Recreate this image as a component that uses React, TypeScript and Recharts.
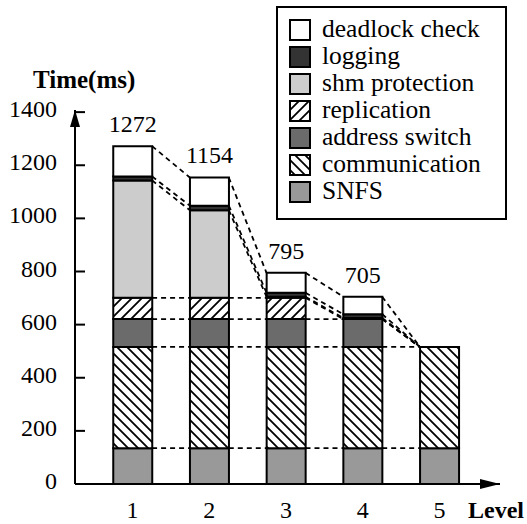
import React from "react";
import {
  ComposedChart, Bar, XAxis, YAxis, ReferenceLine, ReferenceDot, LabelList, Customized,
} from "recharts";

document.body.style.margin = "0";

const FONT = "'Liberation Serif', 'Times New Roman', serif";

const levels = [1, 2, 3, 4, 5];
const snfs = [135, 135, 135, 135, 135];
const communication = [381, 381, 381, 381, 381];
const addressSwitch = [105, 105, 105, 105, 0];
const replication = [80, 80, 80, 0, 0];
const shmProtection = [442, 330, 4, 4, 0];
const logging = [15, 17, 15, 14, 0];
const deadlockCheck = [114, 106, 75, 66, 0];
const totals = [1272, 1154, 795, 705, 516];
const yTicks = [0, 200, 400, 600, 800, 1000, 1200, 1400];

// bottom to top
const series = [
  { key: "snfs", name: "SNFS", values: snfs, fill: "#999999" },
  { key: "communication", name: "communication", values: communication, fill: "url(#hatchBack)" },
  { key: "addressSwitch", name: "address switch", values: addressSwitch, fill: "#6b6b6b" },
  { key: "replication", name: "replication", values: replication, fill: "url(#hatchFwd)" },
  { key: "shmProtection", name: "shm protection", values: shmProtection, fill: "#cccccc" },
  { key: "logging", name: "logging", values: logging, fill: "#333333" },
  { key: "deadlockCheck", name: "deadlock check", values: deadlockCheck, fill: "#ffffff" },
];

const data = levels.map((level, i) => {
  const row: Record<string, number> = { level, total: totals[i] };
  series.forEach((s) => { row[s.key] = s.values[i]; });
  return row;
});

// cumulative tops of each segment, used for the dashed connectors
const cumulative = series.map((_, k) =>
  levels.map((_, i) => series.slice(0, k + 1).reduce((sum, s) => sum + s.values[i], 0))
);

const X_MIN = 0.249;
const X_MAX = 5.79;
const Y_MAX = 1408;
const HALF_BAR = 0.254; // half of a 39px bar, in level units

function YTick({ x, y, payload }: any) {
  return (
    <g>
      <line x1={x} x2={x + 10} y1={y} y2={y} stroke="#000" strokeWidth={2} />
      <text x={x - 18} y={y + 5} textAnchor="end" fontSize={24} fontFamily={FONT} fill="#000">
        {payload.value}
      </text>
    </g>
  );
}

function XTick({ x, y, payload }: any) {
  return (
    <text x={x} y={y + 34} textAnchor="middle" fontSize={24} fontFamily={FONT} fill="#000">
      {payload.value}
    </text>
  );
}

function Extras() {
  const rows = [...series].reverse();
  return (
    <g fontFamily={FONT}>
      <text x={33} y={88} fontSize={25} fontWeight="bold" fill="#000">Time(ms)</text>
      <text x={468} y={518} fontSize={24} fontWeight="bold" fill="#000">Level</text>
      <rect x={277} y={7} width={229} height={212} fill="#fff" stroke="#000" strokeWidth={2} />
      {rows.map((s, i) => (
        <g key={s.key}>
          <rect x={290} y={20 + 27 * i} width={20} height={20} fill={s.fill} stroke="#000" strokeWidth={2} />
          <text x={322} y={37 + 27 * i} fontSize={25.5} fill="#000">{s.name}</text>
        </g>
      ))}
    </g>
  );
}

export default function App() {
  return (
    <ComposedChart
      width={527}
      height={524}
      data={data}
      margin={{ top: 110, right: 27, bottom: 0, left: 0 }}
    >
      <defs>
        <pattern id="hatchBack" patternUnits="userSpaceOnUse" width={10} height={10}>
          <rect width={10} height={10} fill="#fff" />
          <path d="M-2.5,7.5 l5,5 M0,0 l10,10 M7.5,-2.5 l5,5" stroke="#000" strokeWidth={1.8} />
        </pattern>
        <pattern id="hatchFwd" patternUnits="userSpaceOnUse" width={10} height={10}>
          <rect width={10} height={10} fill="#fff" />
          <path d="M-2.5,2.5 l5,-5 M0,10 l10,-10 M7.5,12.5 l5,-5" stroke="#000" strokeWidth={1.8} />
        </pattern>
      </defs>
      <XAxis
        type="number"
        dataKey="level"
        domain={[X_MIN, X_MAX]}
        ticks={levels}
        allowDataOverflow
        height={40}
        tickLine={false}
        tickSize={0}
        tickMargin={0}
        axisLine={{ stroke: "#000", strokeWidth: 2 }}
        tick={<XTick />}
      />
      <YAxis
        type="number"
        domain={[0, Y_MAX]}
        ticks={yTicks}
        allowDataOverflow
        width={75}
        tickLine={false}
        tickSize={0}
        tickMargin={0}
        axisLine={{ stroke: "#000", strokeWidth: 2 }}
        tick={<YTick />}
      />
      {series.map((s, k) => (
        <Bar
          key={s.key}
          dataKey={s.key}
          stackId="t"
          barSize={39}
          fill={s.fill}
          stroke="#000"
          strokeWidth={2}
          isAnimationActive={false}
        >
          {k === series.length - 1 && (
            <LabelList
              dataKey="total"
              content={(p: any) => (
                <text
                  x={p.x + p.width / 2}
                  y={p.y - 14}
                  textAnchor="middle"
                  fontSize={24}
                  fontFamily={FONT}
                  fill="#000"
                >
                  {p.value}
                </text>
              )}
            />
          )}
        </Bar>
      ))}
      {cumulative.map((tops, k) =>
        levels.slice(0, -1).map((lv, i) => (
          <ReferenceLine
            key={`c-${k}-${i}`}
            segment={[
              { x: lv + HALF_BAR, y: tops[i] },
              { x: levels[i + 1] - HALF_BAR, y: tops[i + 1] },
            ]}
            stroke="#000"
            strokeWidth={1.8}
            strokeDasharray="5 4"
          />
        ))
      )}
      <ReferenceDot
        x={X_MAX}
        y={0}
        shape={(p: any) => (
          <polygon points={`${p.cx},${p.cy} ${p.cx - 20},${p.cy - 5} ${p.cx - 20},${p.cy + 5}`} fill="#000" />
        )}
      />
      <ReferenceDot
        x={X_MIN}
        y={Y_MAX}
        shape={(p: any) => (
          <polygon points={`${p.cx},${p.cy} ${p.cx - 5},${p.cy + 17} ${p.cx + 5},${p.cy + 17}`} fill="#000" />
        )}
      />
      <Customized component={<Extras />} />
    </ComposedChart>
  );
}
